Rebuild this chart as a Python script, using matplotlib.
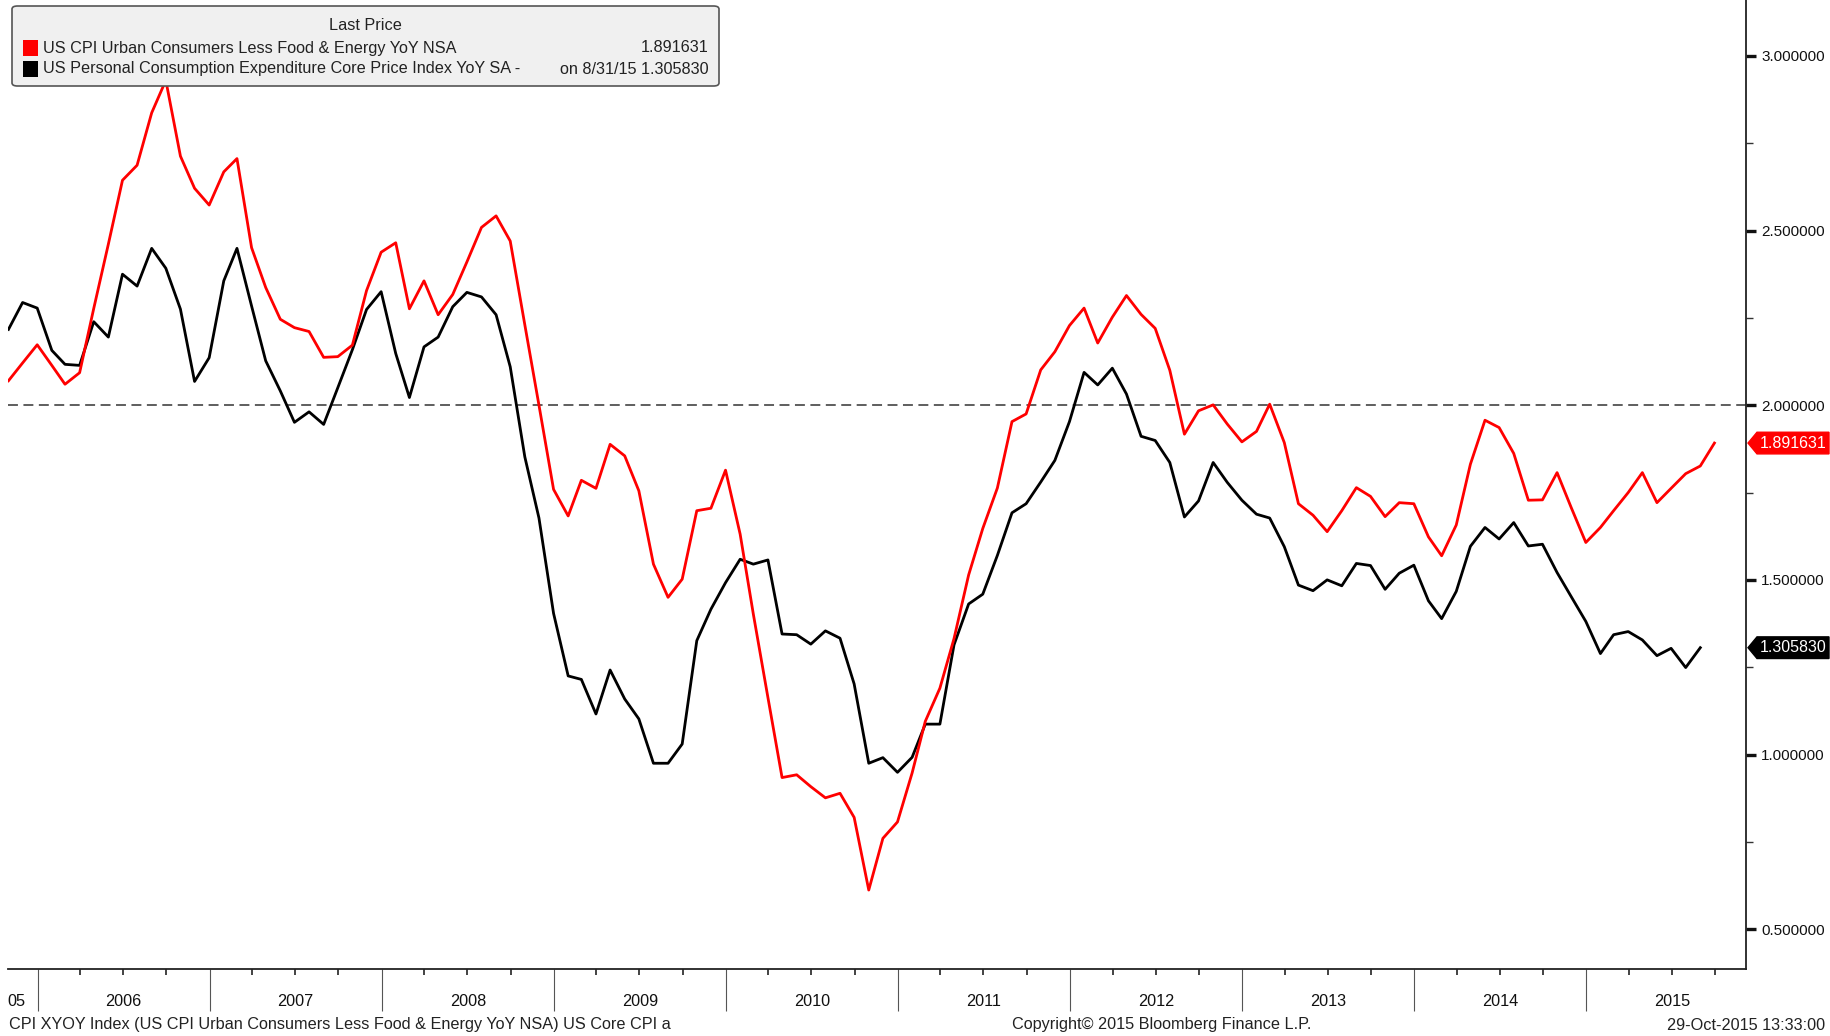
import matplotlib
matplotlib.use("Agg")
import matplotlib.pyplot as plt
import matplotlib.transforms as mtransforms
from matplotlib.patches import FancyBboxPatch, Polygon, Rectangle
from matplotlib import font_manager
import pandas as pd

# month-end values, first point Oct 2005
first_month = '2005-10-01'
cpi_core = [2.070, 2.121, 2.173, 2.114, 2.060, 2.093, 2.277, 2.461, 2.644, 2.687, 2.837, 2.930,
            2.713, 2.621, 2.573, 2.668, 2.706, 2.451, 2.337, 2.246, 2.222, 2.211, 2.137, 2.139,
            2.172, 2.328, 2.438, 2.465, 2.276, 2.356, 2.259, 2.317, 2.410, 2.509, 2.542, 2.470,
            2.230, 2.000, 1.759, 1.683, 1.785, 1.762, 1.888, 1.855, 1.755, 1.545, 1.450, 1.502,
            1.698, 1.705, 1.814, 1.631, 1.402, 1.163, 0.934, 0.942, 0.908, 0.876, 0.889, 0.820,
            0.612, 0.760, 0.807, 0.947, 1.095, 1.190, 1.332, 1.514, 1.647, 1.763, 1.953, 1.975,
            2.101, 2.153, 2.228, 2.278, 2.178, 2.252, 2.314, 2.260, 2.220, 2.100, 1.917, 1.984,
            2.001, 1.946, 1.895, 1.925, 2.003, 1.893, 1.718, 1.685, 1.638, 1.698, 1.764, 1.739,
            1.681, 1.721, 1.718, 1.623, 1.569, 1.657, 1.831, 1.957, 1.936, 1.862, 1.728, 1.729,
            1.807, 1.707, 1.607, 1.650, 1.698, 1.750, 1.807, 1.721, 1.762, 1.804, 1.826, 1.891631]
pce_core = [2.217, 2.294, 2.278, 2.157, 2.117, 2.114, 2.239, 2.195, 2.375, 2.341, 2.449, 2.392,
            2.275, 2.068, 2.136, 2.356, 2.449, 2.284, 2.127, 2.041, 1.951, 1.981, 1.945, 2.050,
            2.159, 2.274, 2.325, 2.148, 2.022, 2.167, 2.195, 2.282, 2.323, 2.310, 2.259, 2.110,
            1.852, 1.677, 1.404, 1.225, 1.215, 1.116, 1.242, 1.159, 1.102, 0.975, 0.975, 1.030,
            1.326, 1.416, 1.492, 1.559, 1.545, 1.557, 1.345, 1.343, 1.316, 1.354, 1.333, 1.202,
            0.975, 0.991, 0.949, 0.992, 1.087, 1.087, 1.314, 1.431, 1.459, 1.570, 1.692, 1.718,
            1.780, 1.842, 1.953, 2.094, 2.058, 2.106, 2.032, 1.911, 1.899, 1.836, 1.680, 1.726,
            1.836, 1.779, 1.728, 1.688, 1.677, 1.595, 1.485, 1.469, 1.500, 1.483, 1.547, 1.541,
            1.473, 1.519, 1.542, 1.440, 1.389, 1.467, 1.596, 1.650, 1.617, 1.664, 1.597, 1.602,
            1.521, 1.452, 1.381, 1.289, 1.343, 1.352, 1.328, 1.283, 1.304, 1.249, 1.305830]
cpi_name = 'US CPI Urban Consumers Less Food & Energy YoY NSA'
pce_name = 'US Personal Consumption Expenditure Core Price Index YoY SA -'
pce_note = 'on 8/31/15'
years = list(range(2006, 2016))
y_ticks = [0.5, 1.0, 1.5, 2.0, 2.5, 3.0]
footer_left = 'CPI XYOY Index (US CPI Urban Consumers Less Food & Energy YoY NSA) US Core CPI a'
footer_mid = 'Copyright\u00a9 2015 Bloomberg Finance L.P.'
footer_right = '29-Oct-2015 13:33:00'

names = {f.name for f in font_manager.fontManager.ttflist}
FONT = 'Liberation Sans Narrow' if 'Liberation Sans Narrow' in names else 'Liberation Sans'
plt.rcParams['font.family'] = [FONT, 'DejaVu Sans']
FS = 11.7 if FONT == 'Liberation Sans' else 13

W, H = 1831, 1036
RED = '#ff0000'
TXT = '#222222'

def month_ends(n):
    return pd.date_range(first_month, periods=n, freq='MS') + pd.offsets.MonthEnd(0)

def fx(px):
    return px / W

def fy(py):
    return 1 - py / H

fig = plt.figure(figsize=(W / 100, H / 100), dpi=100)
ax = fig.add_axes([fx(8), fy(969), fx(1746 - 8), 969 / H])

cpi_dates = month_ends(len(cpi_core))
pce_dates = month_ends(len(pce_core))

ax.axhline(2.0, color='#333333', lw=1.1, dashes=(6.5, 3.6))
ax.plot(pce_dates, pce_core, color='black', lw=2.0)
ax.plot(cpi_dates, cpi_core, color=RED, lw=2.0)

for s in ['left', 'top']:
    ax.spines[s].set_visible(False)
for s in ['right', 'bottom']:
    ax.spines[s].set_linewidth(1.3)
    ax.spines[s].set_color('#222222')

# y axis on the right
ax.yaxis.tick_right()
ax.set_yticks(y_ticks)
ax.set_yticklabels(['%.6f' % v for v in y_ticks])
ax.set_yticks([v + 0.25 for v in y_ticks[:-1]], minor=True)
ax.tick_params(axis='y', which='major', length=7, width=2.4, pad=4, labelsize=11, colors='#111111')
ax.tick_params(axis='y', which='minor', length=5, width=1.0, color='#333333')

# x axis: year separators and quarter ticks
x_lo, x_hi = pd.Timestamp('2005-10-30'), pd.Timestamp('2015-12-06')
year_starts = pd.date_range('2006-01-01', '2015-01-01', freq='YS')
quarters = [d for d in pd.date_range('2006-01-01', '2015-10-01', freq='QS') if d.month != 1]
ax.set_xticks(year_starts)
ax.set_xticklabels([''] * len(year_starts))
ax.set_xticks(quarters, minor=True)
ax.tick_params(axis='x', which='major', length=30, width=0.8, color='#555555')
ax.tick_params(axis='x', which='minor', length=4.5, width=1.2, color='#222222')
ax.set_xlim(x_lo, x_hi)
ax.set_ylim(0.386, 3.16)

trans = mtransforms.blended_transform_factory(ax.transData, ax.transAxes)
for y in years:
    mid = pd.Timestamp('%d-07-02' % y)
    ax.text(mid, -0.034, str(y), transform=trans, ha='center', va='center',
            fontsize=FS, color='#111111', clip_on=False)
ax.text(pd.Timestamp('2005-11-16'), -0.034, '05', transform=trans, ha='center',
        va='center', fontsize=FS, color='#111111', clip_on=False)

# last value tags on the right axis
tag_trans = mtransforms.blended_transform_factory(fig.transFigure, ax.transData)
for val, col in [(cpi_core[-1], RED), (pce_core[-1], 'black')]:
    x0, x1, dx, hh = fx(1748), fx(1829), fx(9), 0.031
    poly = Polygon([(x0, val), (x0 + dx, val + hh), (x1, val + hh), (x1, val - hh), (x0 + dx, val - hh)],
                   closed=True, transform=tag_trans, facecolor=col, edgecolor=col, clip_on=False)
    ax.add_patch(poly)
    ax.text((x0 + dx + x1) / 2, val, '%.6f' % val, transform=tag_trans, ha='center', va='center',
            color='white', fontsize=11.5, clip_on=False)

# legend box
box = FancyBboxPatch((fx(12), fy(86)), fx(707), 80 / H, boxstyle='round,pad=0,rounding_size=0.003',
                     transform=fig.transFigure, facecolor='#f0f0f0', edgecolor='#555555', lw=1.2)
fig.patches.append(box)
fig.text(fx(365), fy(26), 'Last Price', ha='center', va='center', fontsize=FS, color=TXT)
for row_y, col, name, val, note in [(48, RED, cpi_name, cpi_core[-1], ''),
                                   (69, 'black', pce_name, pce_core[-1], pce_note + ' ')]:
    fig.patches.append(Rectangle((fx(23), fy(row_y + 7.5)), fx(15), 15 / H,
                                 transform=fig.transFigure, facecolor=col, edgecolor='none'))
    fig.text(fx(43), fy(row_y), name, ha='left', va='center', fontsize=FS, color=TXT)
    fig.text(fx(709), fy(row_y), note + '%.6f' % val, ha='right', va='center', fontsize=FS, color=TXT)

# footer
fig.text(fx(9), fy(1025), footer_left, ha='left', va='center', fontsize=FS, color=TXT)
fig.text(fx(1162), fy(1025), footer_mid, ha='center', va='center', fontsize=FS, color=TXT)
fig.text(fx(1825), fy(1025), footer_right, ha='right', va='center', fontsize=FS, color=TXT)

fig.savefig('out.png', dpi=100, facecolor='white')
